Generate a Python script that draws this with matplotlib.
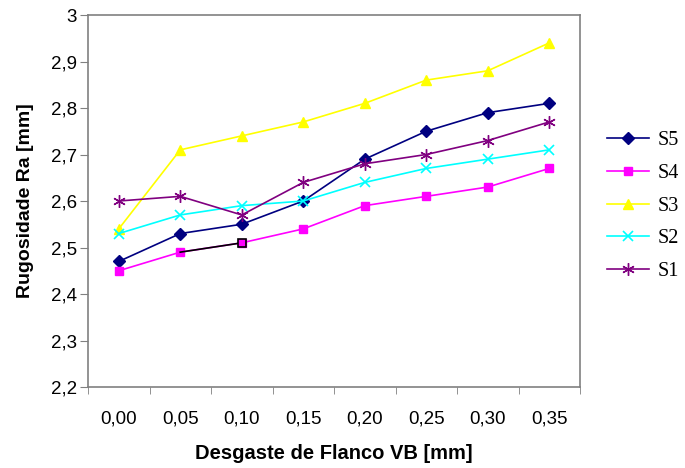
import matplotlib.pyplot as plt
from matplotlib.ticker import FuncFormatter, FixedLocator, NullFormatter

# --- Data ---
vb_labels = ["0,00", "0,05", "0,10", "0,15", "0,20", "0,25", "0,30", "0,35"]
s5 = [2.47, 2.53, 2.55, 2.60, 2.69, 2.75, 2.79, 2.81]
s4 = [2.45, 2.49, 2.51, 2.54, 2.59, 2.61, 2.63, 2.67]
s3 = [2.54, 2.71, 2.74, 2.77, 2.81, 2.86, 2.88, 2.94]
s2 = [2.53, 2.57, 2.59, 2.60, 2.64, 2.67, 2.69, 2.71]
s1 = [2.60, 2.61, 2.57, 2.64, 2.68, 2.70, 2.73, 2.77]

x = list(range(len(vb_labels)))

fig = plt.figure(figsize=(6.85, 4.68), dpi=100)
fig.patch.set_facecolor("white")
ax = fig.add_axes([88 / 685, 1 - 387 / 468, (580 - 88) / 685, (387 - 15) / 468])

series = [
    ("S5", s5, "#000080", "D", 6, 1),
    ("S4", s4, "#FF00FF", "s", 6, 1),
    ("S3", s3, "#FFFF00", "^", 7, 1),
    ("S2", s2, "#00FFFF", "x", 7, 1.2),
    ("S1", s1, "#800080", (6, 2, 0), 9, 1),
]
handles = []
for name, vals, col, mk, ms, mew in series:
    h, = ax.plot(x, vals, color=col, linewidth=1.2, marker=mk, markersize=ms,
                 markerfacecolor=col, markeredgecolor=col, markeredgewidth=mew,
                 label=name, zorder=3)
    handles.append(h)

# selected point quirk on S4 (black segment and outlined marker)
ax.plot(x[1:3], s4[1:3], color="black", linewidth=1.2, zorder=3)
ax.plot(x[2], s4[2], marker="s", markersize=6, markerfacecolor="#FF00FF",
        markeredgecolor="black", markeredgewidth=1.2, zorder=4)

# --- Axes styling ---
ax.set_xlim(-0.5, len(x) - 0.5)
ax.set_ylim(2.2, 3.0)
ax.set_yticks([2.2 + 0.1 * i for i in range(9)])
ax.yaxis.set_major_formatter(FuncFormatter(
    lambda v, p: ("%g" % round(v, 1)).replace(".", ",")))
ax.set_xticks(x)
ax.set_xticklabels(vb_labels)
ax.xaxis.set_minor_locator(FixedLocator([i - 0.5 for i in range(len(x) + 1)]))
ax.xaxis.set_minor_formatter(NullFormatter())
ax.tick_params(axis="x", which="major", length=0, pad=17, labelsize=13.5,
               labelfontfamily="Liberation Sans")
ax.tick_params(axis="x", which="minor", length=5, direction="out", color="#808080")
ax.tick_params(axis="y", length=6, direction="out", color="#808080", pad=2,
               labelsize=13.5, labelfontfamily="Liberation Sans")

for sp in ax.spines.values():
    sp.set_color("#808080")
    sp.set_linewidth(1.2)

ax.set_xlabel("Desgaste de Flanco VB [mm]", fontsize=14.5, fontweight="bold",
              family="Liberation Sans", labelpad=12)
ax.set_ylabel("Rugosidade Ra [mm]", fontsize=14, fontweight="bold",
              family="Liberation Sans", labelpad=12)

fig.legend(handles=handles, loc="upper left", bbox_to_anchor=(607 / 685, 1 - 131 / 468),
           frameon=False, prop={"family": "Liberation Serif", "size": 14.5},
           borderpad=0, borderaxespad=0, handlelength=2.1, labelspacing=0.68,
           handletextpad=0.4)

fig.savefig("out.png", dpi=100)
